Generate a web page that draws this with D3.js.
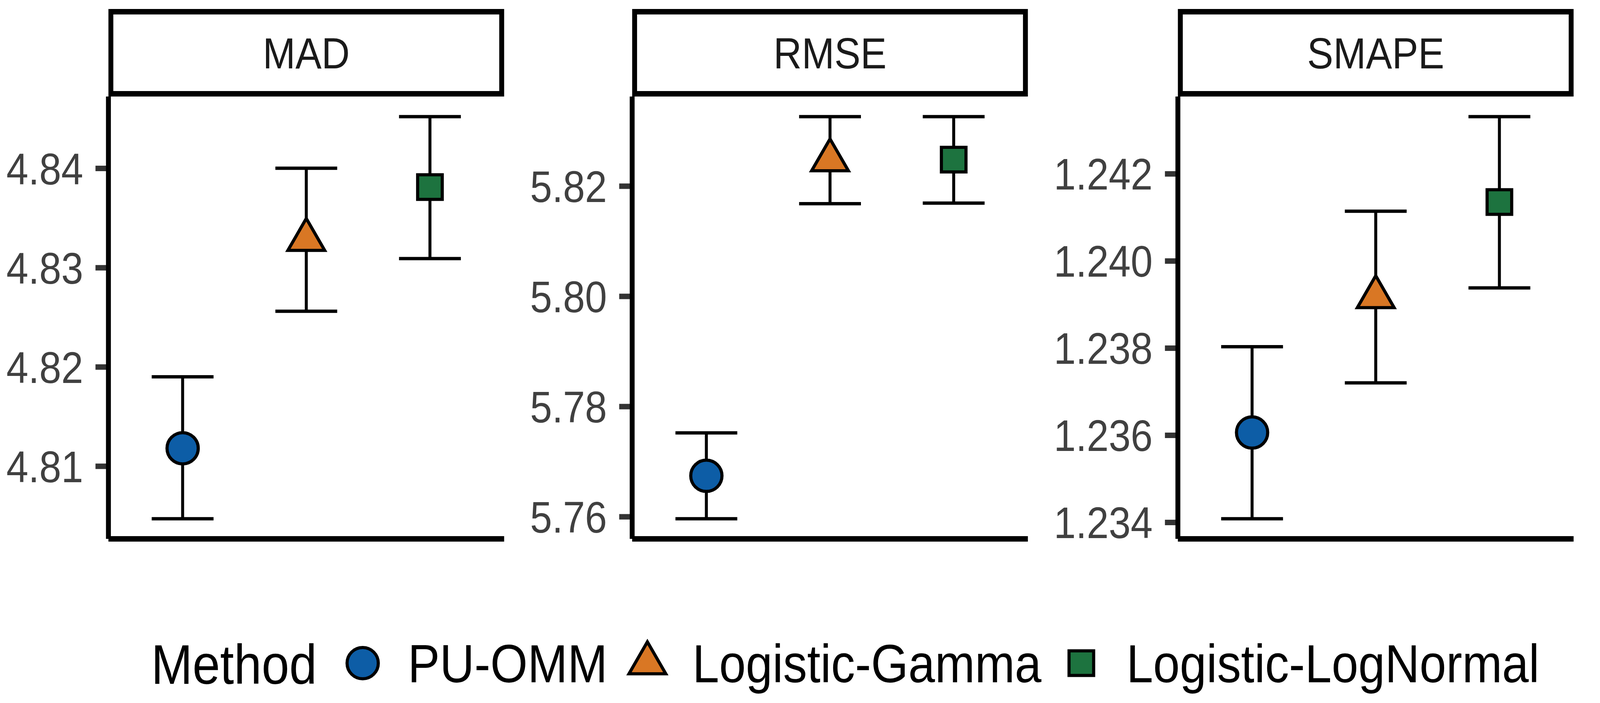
<!DOCTYPE html>
<html>
<head>
<meta charset="utf-8">
<script src="https://cdn.jsdelivr.net/npm/d3@7"></script>
<style>
  html, body { margin: 0; padding: 0; background: #fff; overflow: hidden; }
  svg { display: block; width: 100vw; height: 100vh; font-family: "Liberation Sans", Arial, sans-serif; }
</style>
</head>
<body>
<svg id="chart" viewBox="0 0 4573 1799" preserveAspectRatio="none"></svg>
<script>
// facet names and methods
const metrics = ['MAD', 'RMSE', 'SMAPE'];
const methods = ['PU-OMM', 'Logistic-Gamma', 'Logistic-LogNormal'];
const methodFill = ['#0D5DA6', '#D97724', '#1D733F'];
const methodShape = ['circle', 'triangle', 'square'];

// mean and interval per method
const madMean = [4.8118, 4.8328, 4.8381];
const madLower = [4.8047, 4.8256, 4.8309];
const madUpper = [4.8190, 4.8400, 4.8452];

const rmseMean = [5.7674, 5.8247, 5.8248];
const rmseLower = [5.7596, 5.8168, 5.8169];
const rmseUpper = [5.7752, 5.8326, 5.8326];

const smapeMean = [1.23606, 1.23917, 1.24135];
const smapeLower = [1.23408, 1.23720, 1.23938];
const smapeUpper = [1.23803, 1.24114, 1.24331];

// y tick labels per facet
const madTicks = ['4.81', '4.82', '4.83', '4.84'];
const rmseTicks = ['5.76', '5.78', '5.80', '5.82'];
const smapeTicks = ['1.234', '1.236', '1.238', '1.240', '1.242'];

const panels = [
  { name: metrics[0], mean: madMean, lower: madLower, upper: madUpper, ticks: madTicks },
  { name: metrics[1], mean: rmseMean, lower: rmseLower, upper: rmseUpper, ticks: rmseTicks },
  { name: metrics[2], mean: smapeMean, lower: smapeLower, upper: smapeUpper, ticks: smapeTicks }
];

const VIEW_W = 4573, VIEW_H = 1799;
const svg = d3.select('#chart');
svg.append('rect').attr('width', VIEW_W).attr('height', VIEW_H).attr('fill', '#fff');

// the viewBox is stretched to the window; keep markers round anyway
const box = svg.node().getBoundingClientRect();
const markerSx = box.width > 0 ? (box.height / VIEW_H) / (box.width / VIEW_W) : 1;

const PANEL_TOP = 247;
const PANEL_BOTTOM = 1379;
const PANEL_W = 1131;
const STRIP_TOP = 23;
const LINE_W = 14;
const TICK_LEN = 37;
const LABEL_PAD = 35;
const PANEL_SPACE = 74;
const AXIS_FONT = 113;

function shapePath(shape) {
  if (shape === 'circle') return d3.symbol(d3.symbolCircle, Math.PI * 40 * 40)();
  if (shape === 'square') return d3.symbol(d3.symbolSquare, 63 * 63)();
  // R pch 24 triangle, centred the same way
  const k = 35, r = 1.5551 * k, xc = 1.3468 * k, yc = 0.7776 * k;
  return `M0,${-r}L${xc},${yc}L${-xc},${yc}Z`;
}

function textWidth(str, size) {
  const t = svg.append('text').attr('font-size', size).text(str);
  const w = t.node().getComputedTextLength();
  t.remove();
  return w;
}

let cursor = 18;
panels.forEach(p => {
  const labelW = d3.max(p.ticks, s => textWidth(s, AXIS_FONT));
  const left = cursor + labelW + LABEL_PAD + TICK_LEN;
  const right = left + PANEL_W;
  cursor = right + PANEL_SPACE;

  const lo = d3.min(p.lower), hi = d3.max(p.upper);
  const pad = (hi - lo) * 0.05;
  const y = d3.scaleLinear().domain([lo - pad, hi + pad]).range([PANEL_BOTTOM, PANEL_TOP]);
  const x = d3.scalePoint().domain(methods).range([left, right]).padding(0.6);
  const capHalf = x.step() * 0.25;

  const g = svg.append('g').attr('class', `panel ${p.name.toLowerCase()}`);

  // strip
  g.append('rect')
    .attr('x', left + LINE_W / 2)
    .attr('y', STRIP_TOP + LINE_W / 2)
    .attr('width', PANEL_W - LINE_W)
    .attr('height', PANEL_TOP - STRIP_TOP - LINE_W)
    .attr('fill', '#fff')
    .attr('stroke', '#000')
    .attr('stroke-width', LINE_W);
  g.append('text')
    .attr('x', (left + right) / 2)
    .attr('y', (STRIP_TOP + PANEL_TOP) / 2)
    .attr('dy', '0.358em')
    .attr('text-anchor', 'middle')
    .attr('font-size', 112)
    .attr('fill', '#1A1A1A')
    .text(p.name);

  // y axis
  const axis = g.append('g')
    .attr('transform', `translate(${left},0)`)
    .call(d3.axisLeft(y)
      .tickValues(p.ticks.map(Number))
      .tickFormat((d, i) => p.ticks[i])
      .tickSize(TICK_LEN)
      .tickPadding(LABEL_PAD));
  axis.select('.domain').remove();
  axis.attr('font-family', null).attr('font-size', null);
  axis.selectAll('.tick line').attr('stroke', '#333333').attr('stroke-width', LINE_W);
  axis.selectAll('.tick text')
    .attr('font-size', AXIS_FONT)
    .attr('fill', '#404040')
    .attr('dy', '0.358em');

  // axis lines
  g.append('line')
    .attr('x1', left).attr('x2', left)
    .attr('y1', PANEL_TOP).attr('y2', PANEL_BOTTOM)
    .attr('stroke', '#000').attr('stroke-width', LINE_W);
  g.append('line')
    .attr('x1', left).attr('x2', right)
    .attr('y1', PANEL_BOTTOM).attr('y2', PANEL_BOTTOM)
    .attr('stroke', '#000').attr('stroke-width', LINE_W);

  const rows = methods.map((m, i) => ({ m, i, mean: p.mean[i], lower: p.lower[i], upper: p.upper[i] }));

  // error bars
  const bars = g.selectAll('g.errbar').data(rows).enter().append('g').attr('class', 'errbar')
    .attr('stroke', '#000').attr('stroke-width', 8.5);
  bars.append('line')
    .attr('x1', d => x(d.m)).attr('x2', d => x(d.m))
    .attr('y1', d => y(d.lower)).attr('y2', d => y(d.upper));
  bars.append('line')
    .attr('x1', d => x(d.m) - capHalf).attr('x2', d => x(d.m) + capHalf)
    .attr('y1', d => y(d.upper)).attr('y2', d => y(d.upper));
  bars.append('line')
    .attr('x1', d => x(d.m) - capHalf).attr('x2', d => x(d.m) + capHalf)
    .attr('y1', d => y(d.lower)).attr('y2', d => y(d.lower));

  // points
  g.selectAll('path.pt').data(rows).enter().append('path').attr('class', 'pt')
    .attr('d', d => shapePath(methodShape[d.i]))
    .attr('transform', d => `translate(${x(d.m)},${y(d.mean)}) scale(${markerSx},1)`)
    .attr('fill', d => methodFill[d.i])
    .attr('stroke', '#000')
    .attr('stroke-width', 8)
    .attr('stroke-linejoin', 'miter');
});

// legend
const LEGEND_Y = 1697;
const legend = svg.append('g').attr('class', 'legend');
const title = legend.append('text')
  .attr('x', 432).attr('y', LEGEND_Y).attr('dy', '0.37em')
  .attr('font-size', 142).attr('fill', '#000')
  .text('Method');
let lx = 432 + title.node().getComputedTextLength() + 131;
methods.forEach((m, i) => {
  legend.append('path')
    .attr('d', shapePath(methodShape[i]))
    .attr('transform', `translate(${lx},${LEGEND_Y}) scale(${markerSx},1)`)
    .attr('fill', methodFill[i])
    .attr('stroke', '#000')
    .attr('stroke-width', 8);
  const label = legend.append('text')
    .attr('x', lx + 129).attr('y', LEGEND_Y).attr('dy', '0.358em')
    .attr('font-size', 137).attr('fill', '#000')
    .text(m);
  lx = lx + 129 + label.node().getComputedTextLength() + 114;
});
</script>
</body>
</html>
